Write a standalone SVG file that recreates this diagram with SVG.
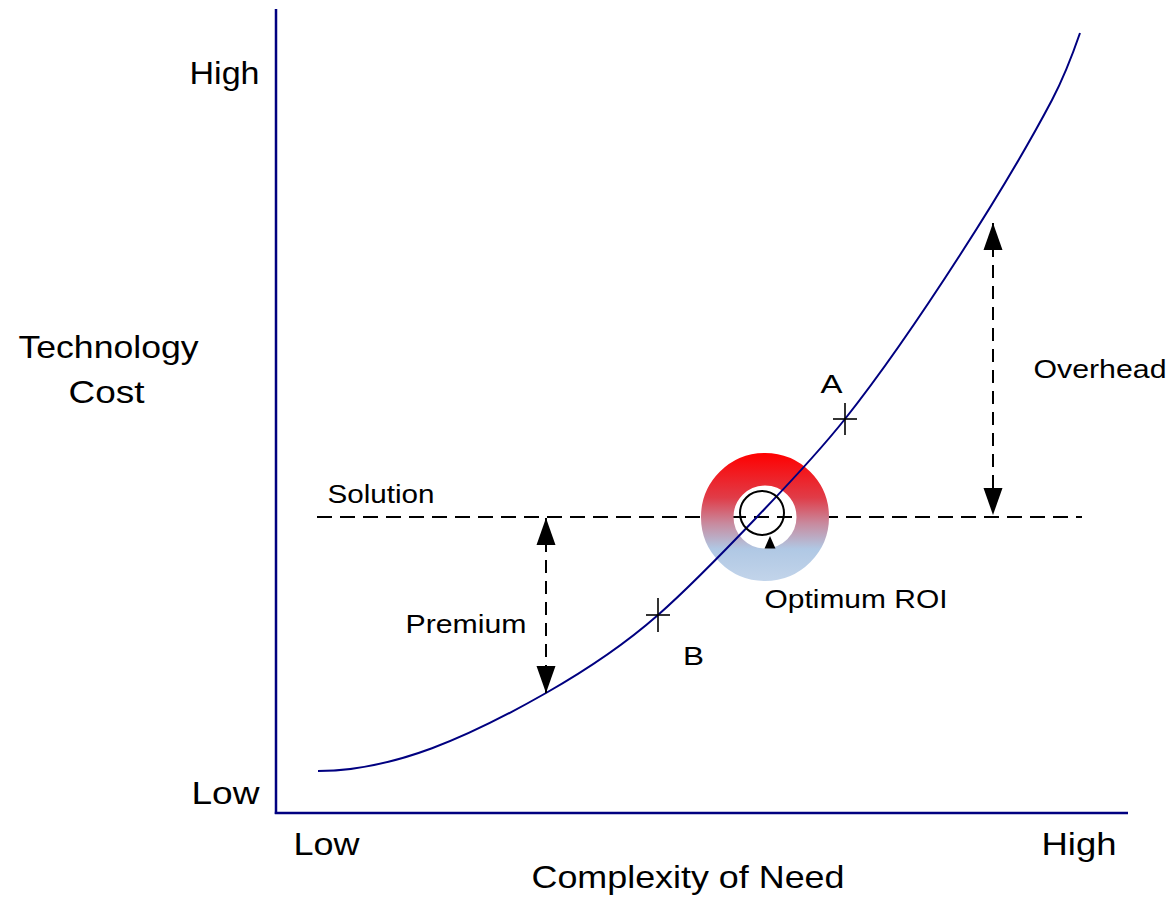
<svg xmlns="http://www.w3.org/2000/svg" width="1171" height="898" viewBox="0 0 1171 898">
<style>
.t{font-family:"Liberation Sans",Arial,sans-serif;fill:#000}
.big{font-size:32px}
.sm{font-size:25px}
.axis{stroke:#000080;stroke-width:2.5;fill:none}
.curve{stroke:#000080;stroke-width:2;fill:none}
.dash{stroke:#000;stroke-width:2;fill:none;stroke-dasharray:15 8}
.vdash{stroke:#000;stroke-width:2;fill:none;stroke-dasharray:13 8}
.mk{stroke:#000;stroke-width:1.6;fill:none}
</style>
<defs>
<linearGradient id="rg" gradientUnits="userSpaceOnUse" x1="0" y1="453" x2="0" y2="581">
<stop offset="0" stop-color="#FF0000"/>
<stop offset="0.35" stop-color="#E03C48"/>
<stop offset="0.55" stop-color="#C88A9E"/>
<stop offset="0.75" stop-color="#B0C8E4"/>
<stop offset="1" stop-color="#C2D4EA"/>
</linearGradient>
<marker id="ah" markerUnits="userSpaceOnUse" markerWidth="28" markerHeight="20" refX="27" refY="9.5" orient="auto-start-reverse" viewBox="0 0 28 19">
<path d="M0,0 L27,9.5 L0,19 Z" fill="#000"/>
</marker>
</defs>
<g id="axes">
<line class="axis" x1="276" y1="9" x2="276" y2="814"/>
<line class="axis" x1="274.8" y1="813" x2="1128" y2="813"/>
</g>
<g id="solution-line">
<line class="dash" x1="317" y1="517" x2="1082" y2="517"/>
</g>
<g id="optimum-ring">
<circle cx="765" cy="517" r="47.75" fill="none" stroke="url(#rg)" stroke-width="32.5"/>
</g>
<g id="cost-curve">
<path class="curve" d="M318,771 C394,771 470,736.32 546,693 C583.33,671.72 620.67,647.85 658,615 C691,585.96 724,551.65 757,517 C786.33,486.2 815.67,455.96 845,419 C883.33,370.7 921.67,314.42 960,255 C990.67,207.46 1021.33,158.27 1052,100 C1061.33,82.27 1070.67,60.07 1080,33"/>
</g>
<g id="connectors">
<line class="vdash" x1="993" y1="223" x2="993" y2="515" marker-start="url(#ah)" marker-end="url(#ah)"/>
<line class="vdash" x1="546" y1="518" x2="546" y2="693" marker-start="url(#ah)" marker-end="url(#ah)"/>
</g>
<g id="optimum-marker">
<circle cx="762" cy="513" r="22" fill="none" stroke="#000" stroke-width="2"/>
<polygon points="770,536 764.5,548.5 775.5,548.5" fill="#000"/>
</g>
<g id="point-A">
<line class="mk" x1="833" y1="419" x2="857" y2="419"/>
<line class="mk" x1="845" y1="403" x2="845" y2="435"/>
<text class="t sm" x="820.5" y="393" textLength="22" lengthAdjust="spacingAndGlyphs">A</text>
</g>
<g id="point-B">
<line class="mk" x1="646" y1="615" x2="670" y2="615"/>
<line class="mk" x1="658" y1="598" x2="658" y2="632"/>
<text class="t sm" x="683" y="665" textLength="21" lengthAdjust="spacingAndGlyphs">B</text>
</g>
<g id="labels">
<text class="t big" x="189.5" y="84" textLength="70" lengthAdjust="spacingAndGlyphs">High</text>
<text class="t big" x="191.5" y="804" textLength="68" lengthAdjust="spacingAndGlyphs">Low</text>
<text class="t big" x="18.5" y="358" textLength="180" lengthAdjust="spacingAndGlyphs">Technology</text>
<text class="t big" x="68.5" y="403" textLength="76" lengthAdjust="spacingAndGlyphs">Cost</text>
<text class="t big" x="293.5" y="855" textLength="66" lengthAdjust="spacingAndGlyphs">Low</text>
<text class="t big" x="1041.5" y="855" textLength="75" lengthAdjust="spacingAndGlyphs">High</text>
<text class="t big" x="531.5" y="888" textLength="313" lengthAdjust="spacingAndGlyphs">Complexity of Need</text>
<text class="t sm" x="327.5" y="503" textLength="107" lengthAdjust="spacingAndGlyphs">Solution</text>
<text class="t sm" x="405.5" y="633" textLength="121" lengthAdjust="spacingAndGlyphs">Premium</text>
<text class="t sm" x="764.5" y="608" textLength="183" lengthAdjust="spacingAndGlyphs">Optimum ROI</text>
<text class="t sm" x="1033.5" y="378" textLength="133" lengthAdjust="spacingAndGlyphs">Overhead</text>
</g>
</svg>
